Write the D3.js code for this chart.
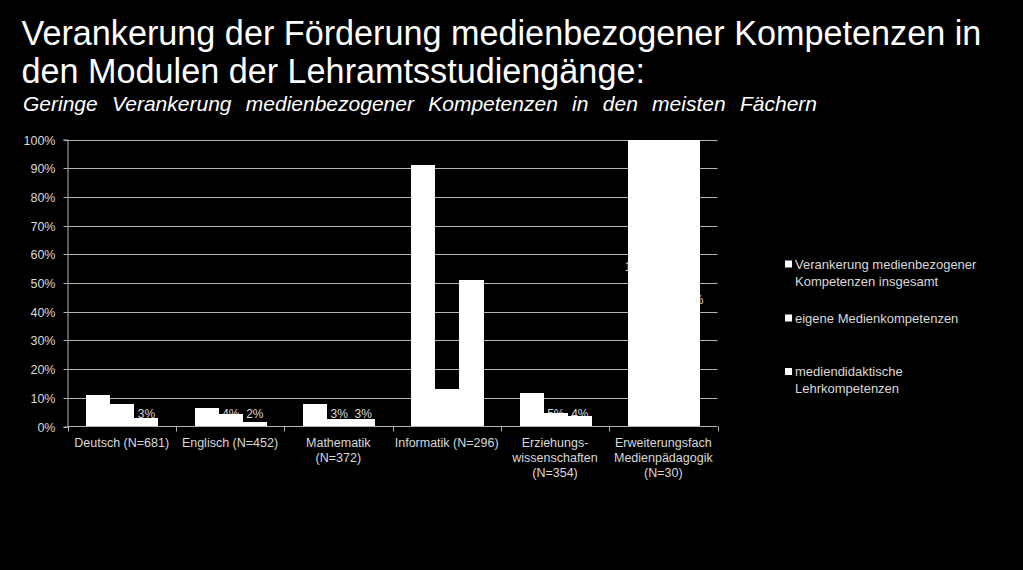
<!DOCTYPE html>
<html>
<head>
<meta charset="utf-8">
<script src="https://cdn.jsdelivr.net/npm/d3@7/dist/d3.min.js"></script>
<style>
  html, body { margin: 0; padding: 0; background: #000; }
  svg { display: block; }
  text { font-family: "Liberation Sans", Arial, sans-serif; }
</style>
</head>
<body>
<svg id="chart" width="1023" height="570"></svg>
<script>
// ---------- data ----------
const titleLines = [
  "Verankerung der Förderung medienbezogener Kompetenzen in",
  "den Modulen der Lehramtsstudiengänge:"
];
const subtitle = "Geringe Verankerung medienbezogener Kompetenzen in den meisten Fächern";

const categories = [
  ["Deutsch (N=681)"],
  ["Englisch (N=452)"],
  ["Mathematik", "(N=372)"],
  ["Informatik (N=296)"],
  ["Erziehungs-", "wissenschaften", "(N=354)"],
  ["Erweiterungsfach", "Medienpädagogik", "(N=30)"]
];
const seriesNames = [
  ["Verankerung medienbezogener", "Kompetenzen insgesamt"],
  ["eigene Medienkompetenzen"],
  ["mediendidaktische", "Lehrkompetenzen"]
];
const insgesamt      = [0.11, 0.065, 0.078, 0.91, 0.115, 1.00];
const eigene         = [0.079, 0.042, 0.027, 0.13, 0.047, 1.00];
const mediendidaktik = [0.030, 0.017, 0.027, 0.51, 0.037, 1.00];
const yTicks = [0, 0.1, 0.2, 0.3, 0.4, 0.5, 0.6, 0.7, 0.8, 0.9, 1.0];

// ---------- layout ----------
const svg = d3.select("#chart");
svg.append("rect").attr("width", 1023).attr("height", 570).attr("fill", "#000");

const plot = { left: 67.5, right: 717.5, top: 139.5, bottom: 426.5 };
const textGrey = "#d9d9d9";
const gridGrey = "#b3b3b3";

// ---------- titles ----------
function fitText(sel, targetWidth) {
  const w = sel.node().getComputedTextLength();
  const fs = parseFloat(sel.attr("font-size"));
  sel.attr("font-size", fs * targetWidth / w);
}
const t1 = svg.append("text").attr("x", 21.5).attr("y", 45).attr("fill", "#fff")
  .attr("font-size", 32).text(titleLines[0]);
fitText(t1, 960);
const fsTitle = parseFloat(t1.attr("font-size"));
svg.append("text").attr("x", 21.5).attr("y", 83).attr("fill", "#fff")
  .attr("font-size", fsTitle).text(titleLines[1]);

const st = svg.append("text").attr("x", 23).attr("y", 111).attr("fill", "#fff")
  .attr("font-size", 21).attr("font-style", "italic").text(subtitle);
{
  const w = st.node().getComputedTextLength();
  const nSpaces = subtitle.split(" ").length - 1;
  st.attr("word-spacing", Math.max(0, (794 - w) / nSpaces));
}

// ---------- scales ----------
const y = d3.scaleLinear().domain([0, 1]).range([plot.bottom, plot.top]);
const x0 = d3.scaleBand().domain(d3.range(categories.length)).range([plot.left, plot.right])
  .paddingInner(0).paddingOuter(0);
const bw = x0.bandwidth();
const x1 = d3.scaleBand().domain([0, 1, 2]).range([bw * 0.175, bw * 0.84]).padding(0);

// ---------- gridlines & axes ----------
const gGrid = svg.append("g");
gGrid.selectAll("line").data(yTicks.slice(1)).join("line")
  .attr("x1", plot.left).attr("x2", plot.right)
  .attr("y1", d => Math.round(y(d)) + 0.5).attr("y2", d => Math.round(y(d)) + 0.5)
  .attr("stroke", gridGrey).attr("stroke-width", 1);

const yAxis = svg.append("g").attr("transform", `translate(${plot.left},0)`)
  .call(d3.axisLeft(y).tickValues(yTicks).tickFormat(d3.format(".0%")).tickSize(4).tickPadding(8));
yAxis.select(".domain").attr("stroke", gridGrey);
yAxis.selectAll(".tick line").attr("stroke", gridGrey);
yAxis.selectAll(".tick text").attr("fill", textGrey).attr("font-size", 12.5)
  .attr("font-family", "Liberation Sans, Arial, sans-serif");
yAxis.selectAll(".tick").attr("transform", d => `translate(0,${Math.round(y(d)) + 0.5})`);

// ---------- data labels (inside base, white, mostly hidden by bars) ----------
const series = [insgesamt, eigene, mediendidaktik];
const barData = [];
categories.forEach((c, ci) => series.forEach((s, si) => barData.push({ ci, si, v: s[ci] })));

const fmt = d3.format(".0%");
svg.append("g").selectAll("text").data(barData).join("text")
  .attr("x", d => x0(d.ci) + x1(d.si) + x1.bandwidth() / 2)
  .attr("y", d => {
    if (d.v >= 1) return d.si === 0 ? y(0.555) : y(0.44);
    return plot.bottom - 13;
  })
  .attr("dy", "0.35em")
  .attr("text-anchor", "middle")
  .attr("fill", textGrey).attr("font-size", 12)
  .text(d => fmt(d.v));

// ---------- bars ----------
svg.append("g").attr("shape-rendering", "crispEdges")
  .selectAll("rect").data(barData).join("rect")
  .attr("x", d => Math.round(x0(d.ci) + x1(d.si)))
  .attr("width", d => Math.round(x0(d.ci) + x1(d.si) + x1.bandwidth()) - Math.round(x0(d.ci) + x1(d.si)))
  .attr("y", d => Math.round(y(d.v)))
  .attr("height", d => Math.round(y(0)) - Math.round(y(d.v)))
  .attr("fill", "#fff");

// x axis
const xAxisG = svg.append("g");
xAxisG.append("line").attr("x1", plot.left).attr("x2", plot.right)
  .attr("y1", plot.bottom).attr("y2", plot.bottom).attr("stroke", gridGrey);
xAxisG.selectAll("line.tk").data(d3.range(categories.length + 1)).join("line")
  .attr("class", "tk")
  .attr("x1", i => Math.round(plot.left + i * bw) + 0.5).attr("x2", i => Math.round(plot.left + i * bw) + 0.5)
  .attr("y1", plot.bottom).attr("y2", plot.bottom + 5).attr("stroke", gridGrey);

const catText = xAxisG.selectAll("text.cat").data(categories).join("text")
  .attr("class", "cat")
  .attr("x", (d, i) => x0(i) + bw / 2)
  .attr("y", 447)
  .attr("text-anchor", "middle")
  .attr("fill", textGrey).attr("font-size", 12.5);
catText.selectAll("tspan").data(d => d).join("tspan")
  .attr("x", function () { return d3.select(this.parentNode).attr("x"); })
  .attr("dy", (d, i) => i === 0 ? 0 : 15)
  .text(d => d);

// ---------- legend ----------
const legendY = [264, 318, 371.5];
const lg = svg.append("g");
seriesNames.forEach((name, i) => {
  lg.append("rect").attr("x", 785).attr("y", legendY[i] - 3.5).attr("width", 7).attr("height", 7)
    .attr("fill", "#fff");
  const t = lg.append("text").attr("x", 795).attr("y", legendY[i]).attr("fill", textGrey)
    .attr("font-size", 13).attr("dy", "0.35em");
  t.selectAll("tspan").data(name).join("tspan")
    .attr("x", 795).attr("dy", (d, j) => j === 0 ? "0.35em" : 17)
    .text(d => d);
});
</script>
</body>
</html>
